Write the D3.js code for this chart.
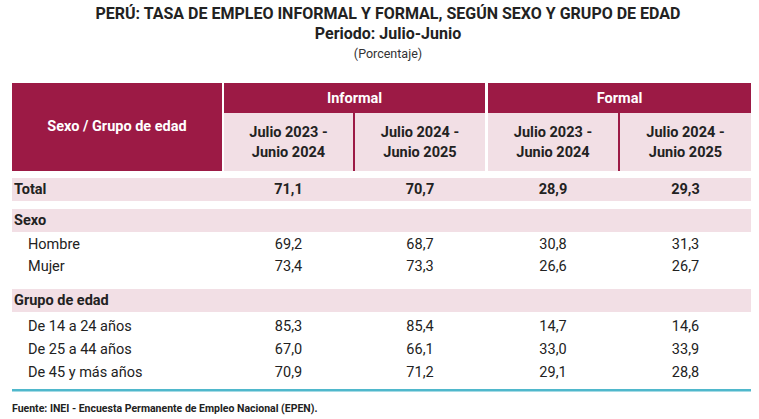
<!DOCTYPE html>
<html>
<head>
<meta charset="utf-8">
<style>
  body { margin: 0; background: #fff; }
  text { font-family: Roboto, sans-serif; }
</style>
<script src="https://cdn.jsdelivr.net/npm/d3@7"></script>
</head>
<body>
<script>
// data
var groups = ["Informal", "Formal"];
var periods = ["Julio 2023 -|Junio 2024", "Julio 2024 -|Junio 2025"];
var rowLabels = ["Total", "Sexo", "Hombre", "Mujer", "Grupo de edad", "De 14 a 24 años", "De 25 a 44 años", "De 45 y más años"];
var rowKinds = ["total", "section", "item", "item", "section", "item", "item", "item"];
var informal2324 = [71.1, null, 69.2, 73.4, null, 85.3, 67.0, 70.9];
var informal2425 = [70.7, null, 68.7, 73.3, null, 85.4, 66.1, 71.2];
var formal2324 = [28.9, null, 30.8, 26.6, null, 14.7, 33.0, 29.1];
var formal2425 = [29.3, null, 31.3, 26.7, null, 14.6, 33.9, 28.8];
var rowY = [189, 220, 244, 266, 300, 326, 349, 372];

var W = 759, H = 419, maroon = "#9c1a45", pink = "#f2dfe5";
var svg = d3.select("body").append("svg").attr("width", W).attr("height", H);
var fmt = function(v) { return v == null ? "" : v.toFixed(1).replace(".", ","); };
var fs = 14.5;

// titles
svg.append("text").attr("x", 388).attr("y", 19).attr("text-anchor", "middle")
  .attr("font-size", 16).attr("font-weight", 700).attr("fill", "#222")
  .text("PERÚ: TASA DE EMPLEO INFORMAL Y FORMAL, SEGÚN SEXO Y GRUPO DE EDAD");
svg.append("text").attr("x", 388).attr("y", 39).attr("text-anchor", "middle")
  .attr("font-size", 16).attr("font-weight", 700).attr("fill", "#222").text("Periodo: Julio-Junio");
svg.append("text").attr("x", 388).attr("y", 58).attr("text-anchor", "middle")
  .attr("font-size", 12.5).attr("fill", "#333").text("(Porcentaje)");

var left = 12;

// header
svg.append("rect").attr("x", left).attr("y", 83).attr("width", 739).attr("height", 88).attr("fill", maroon);
svg.append("text").attr("x", 117).attr("y", 131).attr("text-anchor", "middle")
  .attr("font-size", fs).attr("font-weight", 700).attr("fill", "#fff").text("Sexo / Grupo de edad");
svg.append("rect").attr("x", 222).attr("y", 83).attr("width", 2).attr("height", 88).attr("fill", "#fff");
svg.append("rect").attr("x", 485).attr("y", 83).attr("width", 3).attr("height", 88).attr("fill", "#fff");
groups.forEach(function(g, i) {
  var x0 = i === 0 ? 224 : 488, x1 = i === 0 ? 485 : 751;
  svg.append("text").attr("x", (x0 + x1) / 2).attr("y", 103).attr("text-anchor", "middle")
    .attr("font-size", fs).attr("font-weight", 700).attr("fill", "#fff").text(g);
});
var sub = [[224, 353], [355, 485], [488, 618], [620, 751]];
sub.forEach(function(s, i) {
  svg.append("rect").attr("x", s[0]).attr("y", 113).attr("width", s[1] - s[0]).attr("height", 58).attr("fill", pink);
  periods[i % 2].split("|").forEach(function(l, j) {
    svg.append("text").attr("x", (s[0] + s[1]) / 2).attr("y", 137 + j * 20).attr("text-anchor", "middle")
      .attr("font-size", fs).attr("font-weight", 700).attr("fill", "#222").text(l);
  });
});

// body
var centers = sub.map(function(s) { return (s[0] + s[1]) / 2; });
var series = [informal2324, informal2425, formal2324, formal2425];
rowLabels.forEach(function(lab, r) {
  var k = rowKinds[r], y = rowY[r];
  if (k !== "item") {
    svg.append("rect").attr("x", left).attr("y", y - 11).attr("width", 739).attr("height", 23).attr("fill", pink);
  }
  svg.append("text").attr("x", k === "item" ? 28 : 14).attr("y", y + 5)
    .attr("font-size", fs).attr("font-weight", k === "item" ? 400 : 700).attr("fill", "#222").text(lab);
  series.forEach(function(s, c) {
    svg.append("text").attr("x", centers[c]).attr("y", y + 5).attr("text-anchor", "middle")
      .attr("font-size", fs).attr("font-weight", k === "total" ? 700 : 400).attr("fill", "#222").text(fmt(s[r]));
  });
});

svg.append("rect").attr("x", left).attr("y", 389).attr("width", 739).attr("height", 2.5).attr("fill", "#4fb8cc");
svg.append("text").attr("x", 12).attr("y", 412).attr("font-size", 10.5).attr("font-weight", 700).attr("fill", "#222")
  .text("Fuente: INEI - Encuesta Permanente de Empleo Nacional (EPEN).");
</script>
</body>
</html>
